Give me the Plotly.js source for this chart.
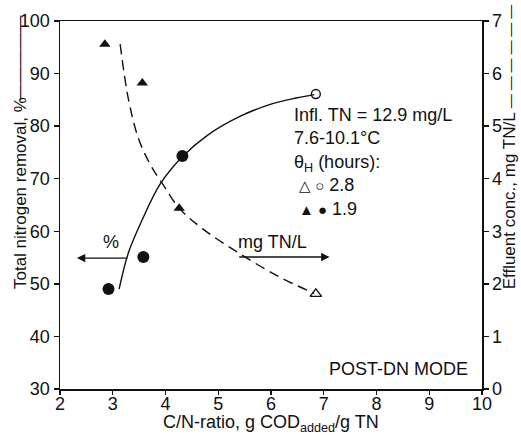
<!DOCTYPE html>
<html>
<head>
<meta charset="utf-8">
<script src="https://cdn.plot.ly/plotly-3.0.1.min.js"></script>
<style>html,body{margin:0;padding:0;background:#fff;}#chart{width:521px;height:441px;}</style>
</head>
<body>
<div id="chart"></div>
<script>
// Removal (%) points, left axis
const circFilledX = [2.92, 3.58, 4.32];
const circFilledY = [49.0, 55.1, 74.3];
const circOpenX = [6.85];
const circOpenY = [86.1];
// Effluent conc. (mg TN/L), right axis
const triFilledX = [2.85, 3.56, 4.26];
const triFilledY = [6.56, 5.82, 3.44];
const triOpenX = [6.85];
const triOpenY = [1.81];
// Fitted curves
const solidCurveX = [3.12, 3.3, 3.55, 3.9, 4.3, 4.8, 5.4, 6.0, 6.5, 6.82];
const solidCurveY = [49, 56, 62, 69, 74, 78.3, 81.8, 84.2, 85.4, 86];
const dashCurveX = [3.14, 3.3, 3.5, 3.75, 3.92, 4.26, 4.7, 5.4, 6.16, 6.82];
const dashCurveY = [6.56, 5.5, 4.73, 4.2, 3.94, 3.44, 3.05, 2.58, 2.13, 1.82];
// Axis ticks
const xTicks = [2, 3, 4, 5, 6, 7, 8, 9, 10];
const yTicks = [30, 40, 50, 60, 70, 80, 90, 100];
const y2Ticks = [0, 1, 2, 3, 4, 5, 6, 7];

const ink = '#111';
const F = 'Liberation Sans, Arial, Helvetica, sans-serif';

const traces = [
  {x: solidCurveX, y: solidCurveY, mode: 'lines', line: {color: ink, width: 1.4, shape: 'spline'}, yaxis: 'y', hoverinfo: 'skip'},
  {x: dashCurveX, y: dashCurveY, mode: 'lines', line: {color: ink, width: 1.4, shape: 'spline', dash: '10px,6px'}, yaxis: 'y2', hoverinfo: 'skip'},
  {x: circFilledX, y: circFilledY, mode: 'markers', marker: {symbol: 'circle', size: 12, color: ink}, yaxis: 'y'},
  {x: circOpenX, y: circOpenY, mode: 'markers', marker: {symbol: 'circle-open', size: 9, color: ink, line: {width: 1.4}}, yaxis: 'y'},
  {x: triFilledX, y: triFilledY, mode: 'markers', marker: {symbol: 'triangle-up', size: 10, color: ink}, yaxis: 'y2'},
  {x: triOpenX, y: triOpenY, mode: 'markers', marker: {symbol: 'triangle-up-open', size: 10, color: ink, line: {width: 1.4}}, yaxis: 'y2'}
];

const sym = s => '<span style="font-size:15px">' + s + '</span>';
const solidKey = '\u2014\u2014\u2014\u2014\u2014';
const dashKey = ' <span style="font-size:14px">\u2014 \u2014 \u2014 \u2014 \u2014 \u2014</span>';

const layout = {
  width: 521, height: 441,
  margin: {l: 60, r: 39, t: 21, b: 52},
  paper_bgcolor: '#fff', plot_bgcolor: '#fff',
  showlegend: false,
  font: {family: F, size: 18, color: ink},
  xaxis: {
    range: [2, 10], tickvals: xTicks, ticktext: xTicks.map(String),
    showgrid: false, zeroline: false, showline: true, mirror: true, linecolor: ink, linewidth: 1.5,
    ticks: 'outside', ticklen: 4, tickwidth: 1.3, tickcolor: ink,
    tickfont: {family: F, size: 18, color: ink}, ticklabelstandoff: -6
  },
  yaxis: {
    range: [30, 100], tickvals: yTicks, ticktext: yTicks.map(String),
    showgrid: false, zeroline: false, showline: true, linecolor: ink, linewidth: 1.5,
    ticks: 'outside', ticklen: 5, tickwidth: 1.3, tickcolor: ink,
    tickfont: {family: F, size: 18, color: ink}
  },
  yaxis2: {
    range: [0, 7], tickvals: y2Ticks, ticktext: y2Ticks.map(String),
    overlaying: 'y', side: 'right',
    showgrid: false, zeroline: false, showline: true, linecolor: ink, linewidth: 1.5,
    ticks: 'outside', ticklen: 5, tickwidth: 1.3, tickcolor: ink,
    tickfont: {family: F, size: 18, color: ink}
  },
  annotations: [
    {xref: 'paper', yref: 'paper', x: -0.095, y: 0.266, xanchor: 'center', yanchor: 'bottom', textangle: -90,
     showarrow: false, text: 'Total nitrogen removal, %', font: {family: F, size: 17, color: ink}},
    {xref: 'paper', yref: 'paper', x: -0.0948, y: 1.0217, xanchor: 'center', yanchor: 'top', textangle: -90,
     showarrow: false, text: solidKey, font: {family: F, size: 17, color: ink}},
    {xref: 'paper', yref: 'paper', x: 1.064, y: 0.264, xanchor: 'center', yanchor: 'bottom', textangle: -90,
     showarrow: false, text: 'Effluent conc., mg TN/L' + dashKey, font: {family: F, size: 17, color: ink}},
    {xref: 'paper', yref: 'paper', x: 0.5, y: -0.093, xanchor: 'center', yanchor: 'middle', showarrow: false,
     text: 'C/N-ratio, g COD<sub>added</sub>/g TN', font: {family: F, size: 18, color: ink}},
    {xref: 'x', yref: 'y', x: 6.39, y: 73.2, xanchor: 'left', yanchor: 'middle', align: 'left', showarrow: false,
     text: 'Infl. TN = 12.9 mg/L<br>7.6-10.1\u00B0C<br>\u03B8<sub>H</sub> (hours):<br>\u00A0' + sym('\u25B3 \u25CB') + ' 2.8<br>\u00A0' + sym('\u25B2 \u25CF') + ' 1.9',
     font: {family: F, size: 18, color: ink}},
    {xref: 'x', yref: 'y', x: 9.78, y: 33.8, xanchor: 'right', yanchor: 'middle', showarrow: false,
     text: 'POST-DN MODE', font: {family: F, size: 18, color: ink}},
    {xref: 'x', yref: 'y', x: 2.32, y: 54.9, ax: 3.31, ay: 54.9, axref: 'x', ayref: 'y', text: '',
     showarrow: true, arrowhead: 2, arrowsize: 1.2, arrowwidth: 1.4, arrowcolor: ink, standoff: 0, startstandoff: 0},
    {xref: 'x', yref: 'y', x: 2.97, y: 57.9, showarrow: false, text: '%', font: {family: F, size: 18, color: ink}},
    {xref: 'x', yref: 'y2', x: 7.11, y: 2.51, ax: 5.37, ay: 2.51, axref: 'x', ayref: 'y2', text: '',
     showarrow: true, arrowhead: 2, arrowsize: 1.2, arrowwidth: 1.4, arrowcolor: ink, standoff: 0, startstandoff: 0},
    {xref: 'x', yref: 'y2', x: 6.03, y: 2.8, showarrow: false, text: 'mg TN/L', font: {family: F, size: 18, color: ink}}
  ]
};

Plotly.newPlot('chart', traces, layout, {displayModeBar: false, staticPlot: true});
</script>
</body>
</html>
